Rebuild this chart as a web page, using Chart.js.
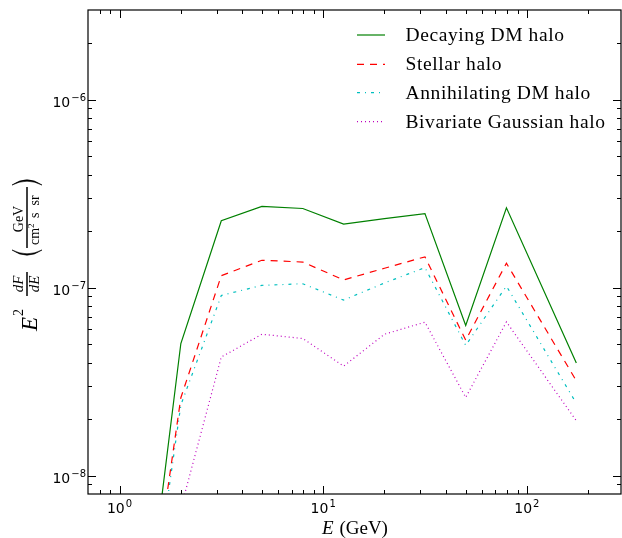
<!DOCTYPE html>
<html>
<head>
<meta charset="utf-8">
<script src="https://cdn.jsdelivr.net/npm/chart.js@4/dist/chart.umd.min.js"></script>
<style>
html,body{margin:0;padding:0;background:#fff;}
#wrap{width:622px;height:538px;}
</style>
</head>
<body>
<div id="wrap"><canvas id="chart" width="622" height="538"></canvas></div>
<script>
// energy bins (GeV) and E^2 dF/dE values (GeV cm^-2 s^-1 sr^-1)
var energies     = [1.26, 2.0, 3.16, 5.0, 7.94, 12.6, 20.0, 31.6, 50.1, 79.4, 175];
var decaying     = [9e-10, 5.05e-8, 2.27e-7, 2.71e-7, 2.64e-7, 2.18e-7, 2.33e-7, 2.48e-7, 6.3e-8, 2.66e-7, 3.98e-8];
var stellar      = [8e-10, 2.6e-8, 1.16e-7, 1.40e-7, 1.37e-7, 1.10e-7, 1.27e-7, 1.46e-7, 5.26e-8, 1.35e-7, 3.2e-8];
var annihilating = [7e-10, 2.38e-8, 9.1e-8, 1.03e-7, 1.05e-7, 8.6e-8, 1.06e-7, 1.28e-7, 4.94e-8, 1.02e-7, 2.43e-8];
var bivariate    = [4e-10, 6.7e-9, 4.28e-8, 5.66e-8, 5.37e-8, 3.83e-8, 5.66e-8, 6.56e-8, 2.61e-8, 6.58e-8, 1.96e-8];
var seriesNames  = ["Decaying DM halo", "Stellar halo", "Annihilating DM halo", "Bivariate Gaussian halo"];
var xTicks = [1, 10, 100];
var xTickExps = ["0", "1", "2"];
var yTicks = [1e-8, 1e-7, 1e-6];
var yTickExps = ["\u22128", "\u22127", "\u22126"];

var SERIF = '"Liberation Serif", serif';
var SANS = '"DejaVu Sans", sans-serif';

function pts(arr){
	return energies.map(function(e, i){ return {x: e, y: arr[i]}; });
}

function minorValues(min, max){
	var out = [];
	var k0 = Math.floor(Math.log10(min)), k1 = Math.ceil(Math.log10(max));
	for (var k = k0; k <= k1; k++){
		for (var m = 1; m <= 9; m++){
			var v = m * Math.pow(10, k);
			if (v > min * 1.02 && v < max * 0.99) out.push({v: v, major: m == 1});
		}
	}
	return out;
}

function drawPow(ctx, exp, x, y, align){
	ctx.font = "14px " + SANS;
	var wb = ctx.measureText("10").width;
	ctx.font = "10px " + SANS;
	var we = ctx.measureText(exp).width;
	var w = wb + we + 1;
	var x0 = align == "center" ? x - w / 2 : x - w;
	ctx.textAlign = "left";
	ctx.textBaseline = "alphabetic";
	ctx.font = "14px " + SANS;
	ctx.fillText("10", x0, y);
	ctx.font = "10px " + SANS;
	ctx.fillText(exp, x0 + wb + 1, y - 6.5);
}

var framePlugin = {
	id: "frame",
	afterDatasetsDraw: function(chart){
		var ctx = chart.ctx, a = chart.chartArea;
		var xs = chart.scales.x, ys = chart.scales.y;
		ctx.save();
		ctx.strokeStyle = "#000";
		ctx.fillStyle = "#000";
		ctx.lineWidth = 1.2;
		ctx.strokeRect(a.left, a.top, a.right - a.left, a.bottom - a.top);

		// inward ticks on all four sides
		ctx.lineWidth = 1;
		ctx.beginPath();
		minorValues(xs.min, xs.max).forEach(function(t){
			var px = Math.round(xs.getPixelForValue(t.v)) + 0.5;
			var len = t.major ? 8 : 4;
			ctx.moveTo(px, a.bottom); ctx.lineTo(px, a.bottom - len);
			ctx.moveTo(px, a.top); ctx.lineTo(px, a.top + len);
		});
		minorValues(ys.min, ys.max).forEach(function(t){
			var py = Math.round(ys.getPixelForValue(t.v)) + 0.5;
			var len = t.major ? 8 : 4;
			ctx.moveTo(a.left, py); ctx.lineTo(a.left + len, py);
			ctx.moveTo(a.right, py); ctx.lineTo(a.right - len, py);
		});
		ctx.stroke();

		// tick labels
		xTicks.forEach(function(v, i){
			drawPow(ctx, xTickExps[i], xs.getPixelForValue(v), a.bottom + 19, "center");
		});
		yTicks.forEach(function(v, i){
			drawPow(ctx, yTickExps[i], a.left - 2, ys.getPixelForValue(v) + 7.5, "right");
		});

		// x axis title
		ctx.textBaseline = "alphabetic";
		ctx.textAlign = "left";
		ctx.font = "italic 19px " + SERIF;
		var wE = ctx.measureText("E").width;
		ctx.font = "19px " + SERIF;
		var wG = ctx.measureText(" (GeV)").width;
		var cx = (a.left + a.right) / 2;
		var x0 = cx - (wE + wG) / 2;
		ctx.font = "italic 19px " + SERIF;
		ctx.fillText("E", x0, 534);
		ctx.font = "19px " + SERIF;
		ctx.fillText(" (GeV)", x0 + wE + 1, 534);

		// y axis title, rotated
		ctx.save();
		ctx.translate(27, 332);
		ctx.rotate(-Math.PI / 2);
		ctx.textAlign = "left";
		ctx.font = "italic 23px " + SERIF;
		ctx.fillText("E", 1, 10);
		ctx.font = "14px " + SERIF;
		ctx.fillText("2", 16, -4);
		// dF/dE
		ctx.lineWidth = 1.5;
		ctx.beginPath(); ctx.moveTo(36, 0); ctx.lineTo(60, 0); ctx.stroke();
		ctx.textAlign = "center";
		ctx.font = "italic 15px " + SERIF;
		ctx.fillText("dF", 48, -4);
		ctx.fillText("dE", 48, 12);
		// big parentheses
		function paren(uEnd, uMid){
			ctx.beginPath();
			ctx.moveTo(uEnd, -15);
			ctx.quadraticCurveTo(uMid - (uEnd - uMid) * 0.15, 0, uEnd, 15);
			ctx.quadraticCurveTo(uMid + (uEnd - uMid) * 0.15, 0, uEnd, -15);
			ctx.fill();
			ctx.lineWidth = 0.6;
			ctx.stroke();
		}
		paren(82, 73);
		paren(147, 156);
		// GeV / cm^2 s sr
		ctx.lineWidth = 1.5;
		ctx.beginPath(); ctx.moveTo(84, 0); ctx.lineTo(145, 0); ctx.stroke();
		ctx.textAlign = "center";
		ctx.font = "14px " + SERIF;
		ctx.fillText("GeV", 113, -4);
		ctx.textAlign = "left";
		ctx.fillText("cm", 87, 12);
		ctx.font = "9px " + SERIF;
		ctx.fillText("2", 104, 7);
		ctx.font = "14px " + SERIF;
		ctx.fillText("s  sr", 114, 12);
		ctx.restore();

		// legend
		var rows = [35, 64.3, 92.7, 121.7];
		chart.data.datasets.forEach(function(ds, i){
			var y = rows[i];
			ctx.save();
			ctx.strokeStyle = ds.borderColor;
			ctx.lineWidth = ds.borderWidth;
			ctx.setLineDash(ds.borderDash || []);
			ctx.beginPath(); ctx.moveTo(357, y); ctx.lineTo(385, y); ctx.stroke();
			ctx.restore();
			ctx.save();
			ctx.fillStyle = "#000";
			ctx.textAlign = "left";
			ctx.textBaseline = "alphabetic";
			ctx.font = "19.5px " + SERIF;
			ctx.letterSpacing = "0.6px";
			ctx.fillText(ds.label, 405.5, y + 6);
			ctx.restore();
		});
		ctx.restore();
	}
};

new Chart(document.getElementById("chart"), {
	type: "line",
	data: {
		datasets: [
			{label: seriesNames[0], data: pts(decaying), borderColor: "#008000", borderWidth: 1.2},
			{label: seriesNames[1], data: pts(stellar), borderColor: "#ff0000", borderWidth: 1.2, borderDash: [7, 6]},
			{label: seriesNames[2], data: pts(annihilating), borderColor: "#00bfbf", borderWidth: 1.2, borderDash: [3, 5, 1, 5]},
			{label: seriesNames[3], data: pts(bivariate), borderColor: "#bf00bf", borderWidth: 1.2, borderDash: [1, 3]}
		]
	},
	options: {
		responsive: false,
		devicePixelRatio: 1,
		animation: false,
		layout: {padding: {left: 88, right: 1, top: 10, bottom: 44}},
		elements: {point: {radius: 0}, line: {tension: 0, fill: false}},
		plugins: {legend: {display: false}, tooltip: {enabled: false}},
		scales: {
			x: {type: "logarithmic", min: 0.7, max: 290, display: false},
			y: {type: "logarithmic", min: 8e-9, max: 3e-6, display: false}
		}
	},
	plugins: [framePlugin]
});
</script>
</body>
</html>
